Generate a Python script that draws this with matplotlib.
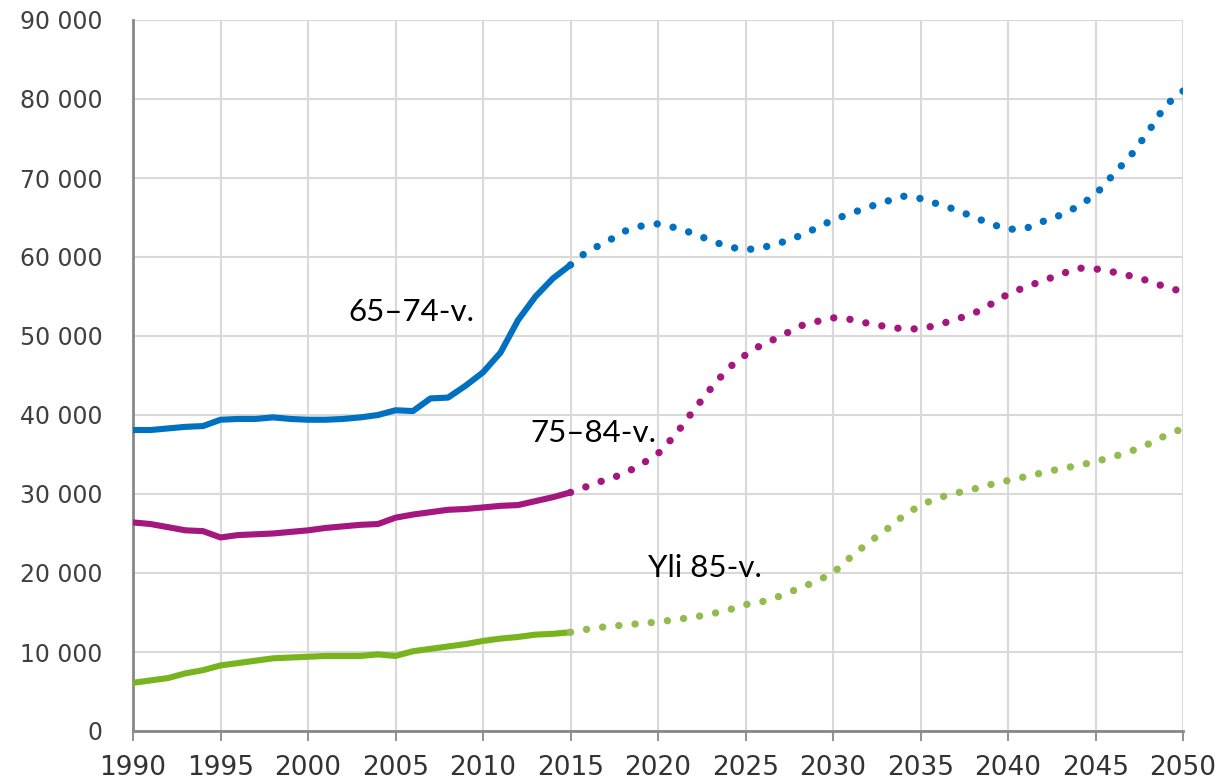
import numpy as np
import matplotlib
matplotlib.use("Agg")
import matplotlib.pyplot as plt
from matplotlib.ticker import FuncFormatter

# Population by age group, thousands
years_hist = list(range(1990, 2016))
years_proj = list(range(2015, 2051))

age65_74_hist = [38.1, 38.1, 38.3, 38.5, 38.6, 39.4, 39.5, 39.5, 39.7, 39.5,
                 39.4, 39.4, 39.5, 39.7, 40.0, 40.6, 40.5, 42.1, 42.2, 43.7,
                 45.4, 47.9, 52.0, 55.0, 57.3, 59.0]
age75_84_hist = [26.4, 26.2, 25.8, 25.4, 25.3, 24.5, 24.8, 24.9, 25.0, 25.2,
                 25.4, 25.7, 25.9, 26.1, 26.2, 27.0, 27.4, 27.7, 28.0, 28.1,
                 28.3, 28.5, 28.6, 29.1, 29.6, 30.2]
age85_hist = [6.1, 6.4, 6.7, 7.3, 7.7, 8.3, 8.6, 8.9, 9.2, 9.3,
              9.4, 9.5, 9.5, 9.5, 9.7, 9.5, 10.1, 10.4, 10.7, 11.0,
              11.4, 11.7, 11.9, 12.2, 12.3, 12.5]

age65_74_proj = [59.0, 60.8, 61.8, 63.2, 63.9, 64.2, 63.7, 63.0, 62.1, 61.3,
                 60.9, 61.2, 61.8, 62.6, 63.6, 64.7, 65.5, 66.3, 67.0, 67.7,
                 67.4, 66.7, 66.0, 65.1, 64.2, 63.5, 63.6, 64.5, 65.3, 66.4,
                 67.9, 70.4, 72.8, 75.8, 79.2, 81.0]
age75_84_proj = [30.2, 31.0, 31.8, 32.5, 33.7, 35.1, 37.5, 40.5, 43.3, 45.9,
                 47.6, 49.0, 49.9, 51.2, 51.8, 52.3, 52.1, 51.6, 51.2, 50.9,
                 50.9, 51.4, 52.1, 52.8, 54.0, 55.3, 56.2, 57.0, 57.8, 58.6,
                 58.5, 58.1, 57.6, 57.0, 56.2, 55.6]
age85_proj = [12.5, 12.9, 13.2, 13.4, 13.6, 13.8, 14.1, 14.4, 14.8, 15.3,
              16.0, 16.4, 17.1, 18.0, 18.9, 20.0, 22.0, 23.8, 25.4, 27.2,
              28.6, 29.5, 30.1, 30.6, 31.2, 31.7, 32.2, 32.7, 33.2, 33.6,
              34.1, 34.7, 35.4, 36.3, 37.4, 38.3]

labels = ["65\u201374-v.", "75\u201384-v.", "Yli 85-v."]

blue = "#0070C0"
magenta = "#A3177F"
green = "#78B41E"
green_dot = "#93BB4F"

fig = plt.figure(figsize=(12.15, 7.83), dpi=100)
ax = fig.add_axes([133 / 1215, 1 - 731 / 783, 1050 / 1215, 711 / 783])

lw = 4.4
lw_dot = 5.3
dots = (0, (0.01, 2.2))

def plot_series(hist, proj, c_solid, c_dot):
    ax.plot(years_hist, np.array(hist) * 1000, color=c_solid, lw=lw,
            solid_capstyle="round", solid_joinstyle="round", zorder=3)
    ax.plot(years_proj, np.array(proj) * 1000, color=c_dot, lw=lw_dot,
            linestyle=dots, dash_capstyle="round", zorder=3)

plot_series(age65_74_hist, age65_74_proj, blue, blue)
plot_series(age75_84_hist, age75_84_proj, magenta, magenta)
plot_series(age85_hist, age85_proj, green, green_dot)

label_font = dict(family=["Lato", "DejaVu Sans"], fontsize=22.5, color="black",
                  ha="left", va="baseline")
ax.text(2002.3, 51900, labels[0], **label_font)
ax.text(2012.7, 36600, labels[1], **label_font)
ax.text(2019.4, 19500, labels[2], **label_font)

ax.set_xlim(1990, 2050)
ax.set_ylim(0, 90000)
ax.set_xticks(range(1990, 2051, 5))
ax.set_yticks(range(0, 90001, 10000))
ax.yaxis.set_major_formatter(FuncFormatter(lambda v, p: f"{int(v):,}".replace(",", " ")))

ax.grid(True, color="#D9D9D9", lw=1.5, zorder=0)
ax.set_axisbelow(True)
for s in ["top", "right"]:
    ax.spines[s].set_visible(False)
for s in ["left", "bottom"]:
    ax.spines[s].set_color("#888888")
    ax.spines[s].set_linewidth(2)

ax.tick_params(axis="x", direction="out", length=7, width=1.3, color="#888888",
               pad=10, labelsize=19, labelcolor="#333333")
ax.tick_params(axis="y", length=0, pad=22, labelsize=17, labelcolor="#404040")
for t in ax.get_xticklabels():
    t.set_family("DejaVu Sans")
for t in ax.get_yticklabels():
    t.set_family("DejaVu Sans")

fig.savefig("out.png", dpi=100)
